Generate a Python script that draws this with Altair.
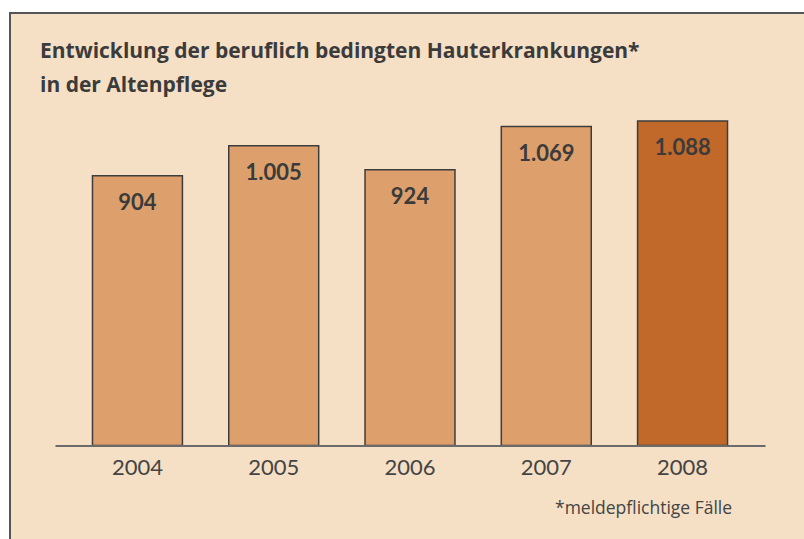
import altair as alt
import pandas as pd

YEARS = ["2004", "2005", "2006", "2007", "2008"]
CASES = [904, 1005, 924, 1069, 1088]
HIGHLIGHT = [False, False, False, False, True]
TITLE_LINES = ["Entwicklung der beruflich bedingten Hauterkrankungen*", "in der Altenpflege"]
FOOTNOTE = "*meldepflichtige Fälle"

df = pd.DataFrame({
    "year": YEARS,
    "cases": CASES,
    "hl": HIGHLIGHT,
    "label": [f"{v:,}".replace(",", ".") for v in CASES],
})

FONT = "Lato"
TFONT = "Open Sans"
TXT = "#3b3b3b"
BG = "#F5DFC5"

x = alt.X("year:N", sort=YEARS,
          scale=alt.Scale(paddingInner=0.34, paddingOuter=0.275),
          axis=alt.Axis(title=None, labelAngle=0, ticks=False, labelFontSize=22,
                        labelFont=FONT, labelColor="#444444", labelPadding=12,
                        domainColor="#6b6b6b", domainWidth=2, zindex=1))
y = alt.Y("cases:Q", scale=alt.Scale(domain=[0, 1200]), axis=None)

base = alt.Chart(df)

panel = alt.Chart(pd.DataFrame({"a": [0]})).mark_rect(
    fill=BG, stroke="#555555", strokeWidth=2
).encode(x=alt.value(-45), x2=alt.value(900), y=alt.value(-74.5), y2=alt.value(700))

bars = base.mark_bar(stroke="#3d3d3d", strokeWidth=1.5).encode(
    x=x, y=y,
    color=alt.Color("hl:N", scale=alt.Scale(domain=[False, True], range=["#DDA06C", "#C0692B"]), legend=None),
)

labels = base.mark_text(font=FONT, fontSize=22, fontWeight="bold", color=TXT,
                        baseline="alphabetic", dy=34).encode(
    x=alt.X("year:N", sort=YEARS), y="cases:Q", text="label:N")

title1 = alt.Chart(pd.DataFrame({"t": [TITLE_LINES[0]]})).mark_text(
    font=TFONT, fontSize=21, fontWeight="bold", color=TXT, align="left", baseline="alphabetic"
).encode(x=alt.value(-15), y=alt.value(58 - 87.5), text="t:N")
title2 = alt.Chart(pd.DataFrame({"t": [TITLE_LINES[1]]})).mark_text(
    font=TFONT, fontSize=21, fontWeight="bold", color=TXT, align="left", baseline="alphabetic"
).encode(x=alt.value(-15), y=alt.value(92 - 87.5), text="t:N")

foot = alt.Chart(pd.DataFrame({"t": [FOOTNOTE]})).mark_text(
    font=TFONT, fontSize=17.5, color="#444444", align="left", baseline="alphabetic"
).encode(x=alt.value(500), y=alt.value(514 - 87.5), text="t:N")

chart = alt.layer(panel, bars, labels, title1, title2, foot).resolve_scale(
    x="shared", y="shared"
).properties(
    width=710, height=358,
    autosize=alt.AutoSizeParams(type="none"),
    padding={"left": 55, "top": 87.5, "right": 39, "bottom": 93.5},
    background="white",
).configure_view(strokeWidth=0)

chart.save("out.html", embed_options={"renderer": "svg", "actions": False})
